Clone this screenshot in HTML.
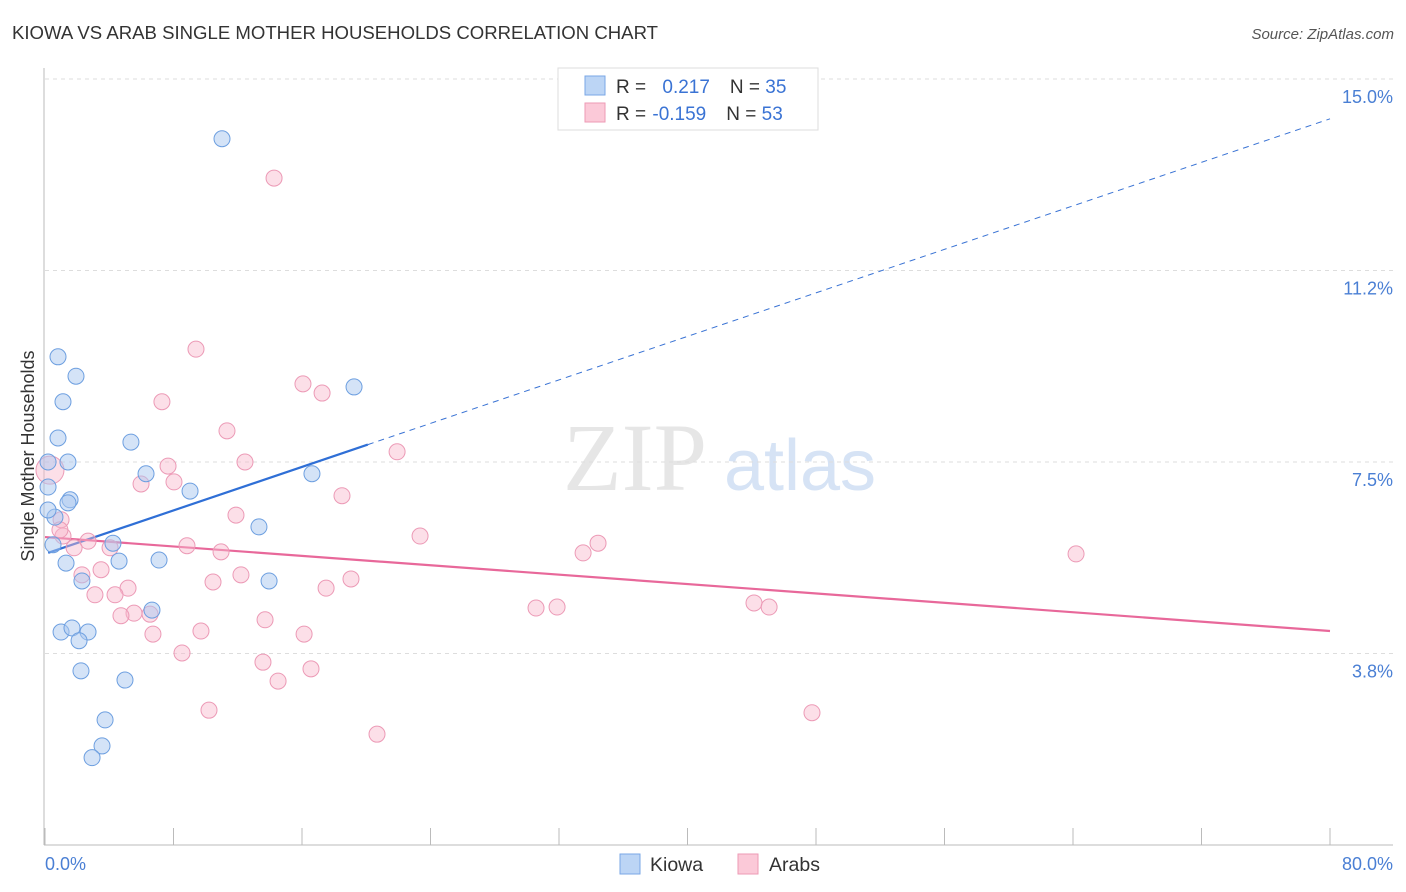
<!DOCTYPE html>
<html><head><meta charset="utf-8"><style>
body{margin:0;background:#fff;font-family:"Liberation Sans",sans-serif;}
svg{display:block}
</style></head><body>
<svg id="chart" width="1406" height="892" viewBox="0 0 1406 892">
<text x="12" y="39" font-size="18" fill="#333" textLength="646" lengthAdjust="spacingAndGlyphs">KIOWA VS ARAB SINGLE MOTHER HOUSEHOLDS CORRELATION CHART</text>
<text x="1394" y="39" font-size="15" fill="#555" font-style="italic" text-anchor="end">Source: ZipAtlas.com</text>
<g>
<text x="635" y="490" font-size="96" font-family="Liberation Serif,serif" fill="#e6e6e6" text-anchor="middle">ZIP</text>
<text x="800" y="490" font-size="72" fill="#d6e3f5" text-anchor="middle">atlas</text>
</g>
<g id="grid"></g>
<g id="axes"></g>
<g id="lines"></g>
<g id="pts"></g>
<text transform="translate(34,456) rotate(-90)" font-size="18" fill="#333" text-anchor="middle">Single Mother Households</text>
<g>
<rect x="558" y="68" width="260" height="62" fill="#fff" stroke="#ddd"/>
<rect x="585" y="76" width="20" height="19" fill="#bcd5f5" stroke="#7aa7e6"/>
<rect x="585" y="103" width="20" height="19" fill="#fbc9d8" stroke="#ee9ab5"/>
<text x="616" y="93" font-size="19" fill="#333">R = <tspan fill="#3a73d4" dx="11">0.217</tspan><tspan dx="20" fill="#333">N = </tspan><tspan fill="#3a73d4">35</tspan></text>
<text x="616" y="120" font-size="19" fill="#333">R = <tspan fill="#3a73d4" dx="1">-0.159</tspan><tspan dx="20" fill="#333">N = </tspan><tspan fill="#3a73d4">53</tspan></text>
</g>
<g>
<rect x="620" y="854" width="20" height="20" fill="#bcd5f5" stroke="#7aa7e6"/>
<text x="650" y="871" font-size="19.5" fill="#333">Kiowa</text>
<rect x="738" y="854" width="20" height="20" fill="#fbc9d8" stroke="#ee9ab5"/>
<text x="769" y="871" font-size="19.5" fill="#333">Arabs</text>
</g>
</svg>
<script>
const yTicks=[3.75,7.5,11.25,15];
const yTickLabels=["3.8%","7.5%","11.2%","15.0%"];
const xTickLabels=["0.0%","80.0%"];
const kiowaX=[11.02,0.81,1.93,1.12,19.24,0.81,5.35,1.43,0.19,6.29,16.62,9.03,1.56,1.43,0.19,0.62,13.32,4.23,1.31,4.61,7.10,2.30,13.95,6.66,1.00,1.68,2.68,2.12,2.24,4.98,3.74,3.55,2.93,0.19,0.50];
const kiowaY=[13.83,9.56,9.18,8.68,8.97,7.97,7.89,7.50,7.50,7.27,7.27,6.93,6.76,6.70,7.01,6.42,6.23,5.91,5.52,5.56,5.58,5.17,5.17,4.60,4.17,4.25,4.17,4.00,3.41,3.23,2.45,1.94,1.71,6.56,5.88];
const arabX=[14.26,9.40,16.06,17.25,7.28,11.33,21.92,12.45,7.66,5.98,8.03,18.49,11.89,1.00,23.35,34.43,33.50,64.19,8.84,4.05,10.96,1.81,2.68,1.12,12.20,19.05,10.46,2.30,3.49,17.50,5.17,3.11,4.36,31.88,30.57,44.14,45.08,5.54,4.73,6.54,6.72,9.71,13.70,16.13,8.53,13.57,16.56,14.51,10.21,47.75,20.67,0.31,0.93];
const arabY=[13.06,9.71,9.03,8.85,8.68,8.11,7.70,7.50,7.42,7.07,7.11,6.84,6.46,6.37,6.05,5.91,5.72,5.70,5.86,5.82,5.74,5.82,5.95,6.05,5.29,5.21,5.15,5.29,5.39,5.03,5.03,4.90,4.90,4.66,4.64,4.74,4.66,4.54,4.49,4.52,4.13,4.19,4.41,4.13,3.76,3.58,3.45,3.21,2.64,2.59,2.17,7.34,6.17];
const kiowaTrend=[5.70,14.22];
const kiowaSolidEnd=20.1;
const arabTrend=[6.03,4.19];
const X=v=>45+v/80*1285;
const Y=v=>845-v/15*766;
const NS="http://www.w3.org/2000/svg";
function mk(tag,attrs,parent){const e=document.createElementNS(NS,tag);for(const k in attrs)e.setAttribute(k,attrs[k]);document.getElementById(parent).appendChild(e);return e;}
yTicks.forEach((t,i)=>{
 const g=mk('line',{x1:45,x2:1393,y1:Y(t),y2:Y(t),stroke:'#ddd','stroke-dasharray':'4,4'},'grid');
 
 
 const l=mk('text',{x:1393,y:Y(t)+24,'font-size':18,fill:'#4a7fd4','text-anchor':'end'},'grid');
 l.textContent=yTickLabels[i];
 
 
});
let a=mk('line',{x1:44,x2:44,y1:68,y2:845,stroke:'#bbb'},'axes');


a=mk('line',{x1:44,x2:1393,y1:845,y2:845,stroke:'#bbb'},'axes');


for(let i=0;i<=10;i++){
 const t=mk('line',{x1:X(i*8),x2:X(i*8),y1:828,y2:845,stroke:'#bbb'},'axes');
 
 
}
[[0,'start',45],[80,'end',1393]].forEach((d,i)=>{
 const t=mk('text',{x:d[2],y:870,'font-size':18,fill:'#4a7fd4','text-anchor':d[1]},'axes');
 t.textContent=xTickLabels[i];
 
 
});
const kY=x=>kiowaTrend[0]+(kiowaTrend[1]-kiowaTrend[0])*x/80;
let ln=mk('line',{x1:X(kiowaSolidEnd),y1:Y(kY(kiowaSolidEnd)),x2:X(80),y2:Y(kY(80)),stroke:'#3a73d4','stroke-dasharray':'6,5','stroke-width':1},'lines');


ln=mk('line',{x1:X(0.2),y1:Y(kY(0.2)),x2:X(kiowaSolidEnd),y2:Y(kY(kiowaSolidEnd)),stroke:'#2f6fd6','stroke-width':2.2},'lines');


ln=mk('line',{x1:X(0),y1:Y(arabTrend[0]),x2:X(80),y2:Y(arabTrend[1]),stroke:'#e8689a','stroke-width':2.2},'lines');


arabX.forEach((x,i)=>{
 const c=mk('circle',{cx:X(x),cy:Y(arabY[i]),r:(i===51?14:8),fill:'rgba(248,184,205,0.45)',stroke:'#ec9ab6','stroke-width':1},'pts');
 
 
});
kiowaX.forEach((x,i)=>{
 const c=mk('circle',{cx:X(x),cy:Y(kiowaY[i]),r:8,fill:'rgba(170,200,240,0.5)',stroke:'#6d9fe0','stroke-width':1},'pts');
 
 
});
</script>
</body></html>
